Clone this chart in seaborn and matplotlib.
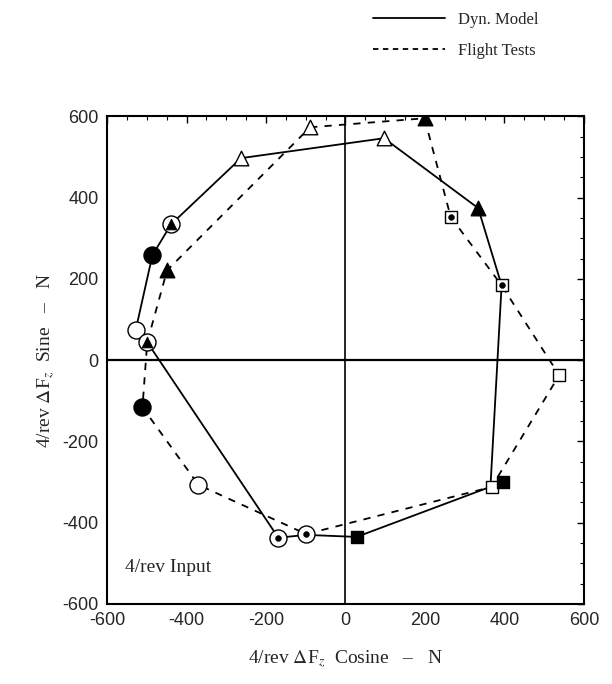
import numpy as np
import pandas as pd
import matplotlib
matplotlib.use("Agg")
import matplotlib.pyplot as plt
import seaborn as sns
from matplotlib.lines import Line2D
from matplotlib.ticker import MultipleLocator

# Dyn. Model path (solid)
model_x = [-263, 97, 334, 393, 365, 397, 28, -99, -169, -499, -528, -486, -439, -263]
model_y = [497, 546, 374, 184, -310, -300, -435, -430, -437, 44, 74, 258, 334, 497]

# Flight Tests path (dashed)
test_x = [-89, 199, 265, 393, 538, 368, -99, -370, -511, -499, -449, -89]
test_y = [573, 595, 352, 184, -37, -312, -428, -307, -116, 44, 221, 573]

# marker symbols placed on the paths
mark_x = [-263, -89, 97, 199, 334, -449, 265, 393, 538, 368, 397, 28, -99, -169, -370, -511, -499, -528, -486, -439]
mark_y = [497, 573, 546, 595, 374, 221, 352, 184, -37, -312, -300, -435, -428, -437, -307, -116, 44, 74, 258, 334]
mark_kind = ['open_tri', 'open_tri', 'open_tri', 'filled_tri', 'filled_tri', 'filled_tri',
             'dot_sq', 'dot_sq', 'open_sq', 'open_sq', 'filled_sq', 'filled_sq',
             'dot_circ', 'dot_circ', 'open_circ', 'filled_circ', 'tri_circ', 'open_circ',
             'filled_circ', 'tri_circ']

ticks = [-600, -400, -200, 0, 200, 400, 600]

sns.set_style("white")
plt.rcParams['font.family'] = ['Liberation Sans', 'DejaVu Sans']
plt.rcParams['mathtext.fontset'] = 'stix'

fig = plt.figure(figsize=(6.12, 6.84), dpi=100)
ax = fig.add_axes([0.175, 0.117, 0.779, 0.713])

ax.axhline(0, color='black', lw=1.6, zorder=1)
ax.axvline(0, color='black', lw=1.2, zorder=1)

model = pd.DataFrame({'x': model_x, 'y': model_y})
test = pd.DataFrame({'x': test_x, 'y': test_y})
sns.lineplot(data=model, x='x', y='y', sort=False, estimator=None, color='black', lw=1.3, ax=ax, zorder=2)
sns.lineplot(data=test, x='x', y='y', sort=False, estimator=None, color='black', lw=1.3,
             linestyle=(0, (4, 4)), ax=ax, zorder=2)

marks = pd.DataFrame({'x': mark_x, 'y': mark_y, 'kind': mark_kind})

styles = {
    'open_tri': dict(marker='^', s=110, facecolor='white'),
    'filled_tri': dict(marker='^', s=110, facecolor='black'),
    'open_sq': dict(marker='s', s=80, facecolor='white'),
    'dot_sq': dict(marker='s', s=80, facecolor='white'),
    'filled_sq': dict(marker='s', s=80, facecolor='black'),
    'open_circ': dict(marker='o', s=150, facecolor='white'),
    'dot_circ': dict(marker='o', s=150, facecolor='white'),
    'filled_circ': dict(marker='o', s=150, facecolor='black'),
    'tri_circ': dict(marker='o', s=150, facecolor='white'),
}
for kind, st in styles.items():
    sub = marks[marks['kind'] == kind]
    sns.scatterplot(data=sub, x='x', y='y', marker=st['marker'], s=st['s'],
                    facecolor=st['facecolor'], edgecolor='black', linewidth=1.0, ax=ax, zorder=3)
    if kind in ('dot_sq', 'dot_circ'):
        sns.scatterplot(data=sub, x='x', y='y', marker='o', s=18, color='black',
                        edgecolor='black', ax=ax, zorder=4)
    if kind == 'tri_circ':
        sns.scatterplot(data=sub, x='x', y='y', marker='^', s=60, color='black',
                        edgecolor='black', ax=ax, zorder=4)

ax.set_xlim(-600, 600)
ax.set_ylim(-600, 600)
ax.set_xticks(ticks)
ax.set_yticks(ticks)
ax.set_xticklabels([str(t) for t in ticks], fontsize=13)
ax.set_yticklabels([str(t) for t in ticks], fontsize=13)
ax.xaxis.set_minor_locator(MultipleLocator(50))
ax.yaxis.set_minor_locator(MultipleLocator(50))
ax.tick_params(which='both', direction='in', top=True, right=True, color='black')
ax.tick_params(which='major', length=5, width=1, pad=6)
ax.tick_params(which='minor', length=3, width=0.8)
for sp in ax.spines.values():
    sp.set_color('black')
    sp.set_linewidth(1.5)

serif = ['Liberation Serif', 'DejaVu Serif']
ax.set_xlabel(r'4/rev $\Delta$F$_z$  Cosine   –   N', fontsize=14, family=serif, labelpad=14)
ax.set_ylabel(r'4/rev $\Delta$F$_z$  Sine   –   N', fontsize=14, family=serif, labelpad=4)

ax.text(-555, -510, '4/rev Input', fontsize=14, family=serif, ha='left', va='center')

handles = [Line2D([0], [0], color='black', lw=1.3),
           Line2D([0], [0], color='black', lw=1.3, linestyle=(0, (3, 2.5)))]
fig.legend(handles, ['Dyn. Model', 'Flight Tests'], loc='upper left',
           bbox_to_anchor=(0.585, 1.005), frameon=False, handlelength=4.3,
           labelspacing=0.9, prop={'family': serif, 'size': 12})

fig.savefig('out.png', dpi=100)
